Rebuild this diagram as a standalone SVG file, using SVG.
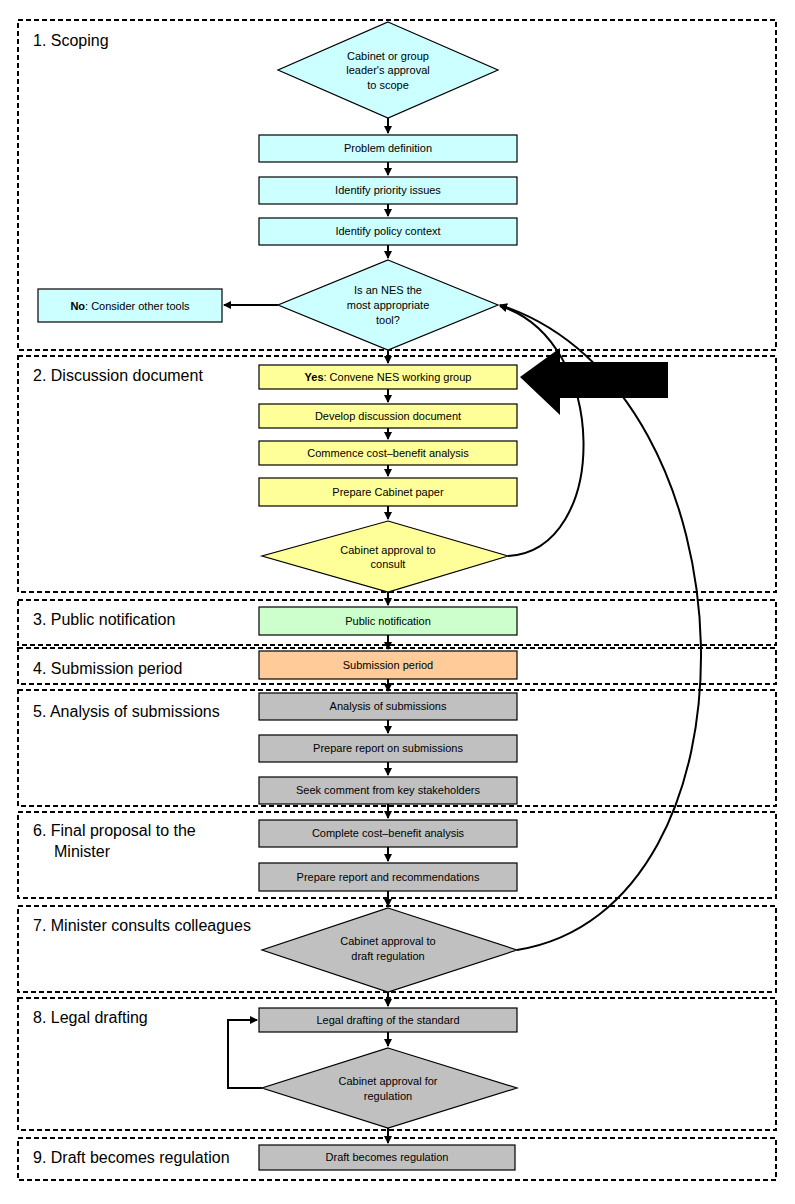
<svg xmlns="http://www.w3.org/2000/svg" width="795" height="1204" viewBox="0 0 795 1204">
<style>
.sec{fill:none;stroke:#000;stroke-width:2;stroke-dasharray:5,3}
.lbl{font-family:"Liberation Sans",Arial,sans-serif;font-size:16px;fill:#000}
.t{font-family:"Liberation Sans",Arial,sans-serif;font-size:11px;fill:#000;text-anchor:middle}
.n{stroke:#000;stroke-width:1.2}
.c{fill:#ccffff}.y{fill:#ffff99}.g{fill:#ccffcc}.o{fill:#ffcc99}.s{fill:#c0c0c0}
.e{fill:none;stroke:#000;stroke-width:2}
</style>
<defs><marker id="a" markerWidth="8" markerHeight="8" refX="7" refY="4" orient="auto" markerUnits="userSpaceOnUse"><path d="M0,0L8,4L0,8z" fill="#000"/></marker></defs>
<g id="sections">
<rect class="sec" x="18" y="20" width="758" height="330"/>
<rect class="sec" x="18" y="356" width="758" height="236"/>
<rect class="sec" x="18" y="600" width="758" height="45"/>
<rect class="sec" x="18" y="648" width="758" height="36"/>
<rect class="sec" x="18" y="690" width="758" height="116"/>
<rect class="sec" x="18" y="812" width="758" height="86"/>
<rect class="sec" x="18" y="906" width="758" height="86"/>
<rect class="sec" x="18" y="998" width="758" height="132"/>
<rect class="sec" x="18" y="1138" width="758" height="42"/>
<text class="lbl" x="33" y="46">1.  Scoping</text>
<text class="lbl" x="33" y="381">2.  Discussion document</text>
<text class="lbl" x="33" y="625">3.  Public notification</text>
<text class="lbl" x="33" y="674">4.  Submission period</text>
<text class="lbl" x="33" y="717">5.  Analysis of submissions</text>
<text class="lbl" x="33" y="836">6.  Final proposal to the</text>
<text class="lbl" x="54" y="857">Minister</text>
<text class="lbl" x="33" y="931">7.  Minister consults colleagues</text>
<text class="lbl" x="33" y="1023">8.  Legal drafting</text>
<text class="lbl" x="33" y="1163">9.  Draft becomes regulation</text>
</g>
<g id="connectors">
<path class="e" d="M388,118V133" marker-end="url(#a)"/>
<path class="e" d="M388,162V175" marker-end="url(#a)"/>
<path class="e" d="M388,204V216" marker-end="url(#a)"/>
<path class="e" d="M388,245V258" marker-end="url(#a)"/>
<path class="e" d="M278,305H224" marker-end="url(#a)"/>
<path class="e" d="M388,350V363" marker-end="url(#a)"/>
<path class="e" d="M388,389V402" marker-end="url(#a)"/>
<path class="e" d="M388,428V439" marker-end="url(#a)"/>
<path class="e" d="M388,465V476" marker-end="url(#a)"/>
<path class="e" d="M388,506V519" marker-end="url(#a)"/>
<path class="e" d="M388,592V605" marker-end="url(#a)"/>
<path class="e" d="M388,635V649" marker-end="url(#a)"/>
<path class="e" d="M388,679V691" marker-end="url(#a)"/>
<path class="e" d="M388,720V733" marker-end="url(#a)"/>
<path class="e" d="M388,762V775" marker-end="url(#a)"/>
<path class="e" d="M388,804V818" marker-end="url(#a)"/>
<path class="e" d="M388,847V861" marker-end="url(#a)"/>
<path class="e" d="M388,891V906" marker-end="url(#a)"/>
<path class="e" d="M388,992V1006" marker-end="url(#a)"/>
<path class="e" d="M388,1032V1046" marker-end="url(#a)"/>
<path class="e" d="M388,1128V1143" marker-end="url(#a)"/>
<path class="e" d="M262,1088H228V1020H257" marker-end="url(#a)"/>
<path class="e" d="M508,556C610,550 610,340 500,306" marker-end="url(#a)"/>
<path class="e" d="M517,950C770,910 760,390 500,305" marker-end="url(#a)"/>
<polygon points="520,377 560,348 560,362 668,362 668,398 560,398 560,415" fill="#000"/>
</g>
<g id="n1"><polygon class="n c" points="388,22 498,70 388,118 278,70"/><text class="t" x="388" y="60">Cabinet or group</text><text class="t" x="388" y="74">leader's approval</text><text class="t" x="388" y="89">to scope</text></g>
<g id="n2"><rect class="n c" x="259" y="135" width="258" height="27"/><text class="t" x="388" y="152">Problem definition</text></g>
<g id="n3"><rect class="n c" x="259" y="177" width="258" height="27"/><text class="t" x="388" y="194">Identify priority issues</text></g>
<g id="n4"><rect class="n c" x="259" y="218" width="258" height="27"/><text class="t" x="388" y="235">Identify policy context</text></g>
<g id="n5"><polygon class="n c" points="388,260 498,305 388,350 278,305"/><text class="t" x="388" y="294">Is an NES the</text><text class="t" x="388" y="309">most appropriate</text><text class="t" x="388" y="324">tool?</text></g>
<g id="n6"><rect class="n c" x="38" y="289" width="184" height="33"/><text class="t" x="130" y="310"><tspan font-weight="bold">No</tspan>: Consider other tools</text></g>
<g id="n7"><rect class="n y" x="259" y="365" width="258" height="24"/><text class="t" x="388" y="381"><tspan font-weight="bold">Yes</tspan>: Convene NES working group</text></g>
<g id="n8"><rect class="n y" x="259" y="404" width="258" height="24"/><text class="t" x="388" y="420">Develop discussion document</text></g>
<g id="n9"><rect class="n y" x="259" y="441" width="258" height="24"/><text class="t" x="388" y="457">Commence cost–benefit analysis</text></g>
<g id="n10"><rect class="n y" x="259" y="478" width="258" height="28"/><text class="t" x="388" y="496">Prepare Cabinet paper</text></g>
<g id="n11"><polygon class="n y" points="388,521 508,556 388,592 262,556"/><text class="t" x="388" y="554">Cabinet approval to</text><text class="t" x="388" y="568">consult</text></g>
<g id="n12"><rect class="n g" x="259" y="607" width="258" height="28"/><text class="t" x="388" y="625">Public notification</text></g>
<g id="n13"><rect class="n o" x="259" y="651" width="258" height="28"/><text class="t" x="388" y="669">Submission period</text></g>
<g id="n14"><rect class="n s" x="259" y="693" width="258" height="27"/><text class="t" x="388" y="710">Analysis of submissions</text></g>
<g id="n15"><rect class="n s" x="259" y="735" width="258" height="27"/><text class="t" x="388" y="752">Prepare report on submissions</text></g>
<g id="n16"><rect class="n s" x="259" y="777" width="258" height="27"/><text class="t" x="388" y="794">Seek comment from key stakeholders</text></g>
<g id="n17"><rect class="n s" x="259" y="820" width="258" height="27"/><text class="t" x="388" y="837">Complete cost–benefit analysis</text></g>
<g id="n18"><rect class="n s" x="259" y="863" width="258" height="28"/><text class="t" x="388" y="881">Prepare report and recommendations</text></g>
<g id="n19"><polygon class="n s" points="388,908 517,950 388,992 262,950"/><text class="t" x="388" y="945">Cabinet approval to</text><text class="t" x="388" y="960">draft regulation</text></g>
<g id="n20"><rect class="n s" x="259" y="1008" width="258" height="24"/><text class="t" x="388" y="1024">Legal drafting of the standard</text></g>
<g id="n21"><polygon class="n s" points="388,1048 517,1088 388,1128 262,1088"/><text class="t" x="388" y="1085">Cabinet approval for</text><text class="t" x="388" y="1100">regulation</text></g>
<g id="n22"><rect class="n s" x="259" y="1145" width="256" height="25"/><text class="t" x="387" y="1161">Draft becomes regulation</text></g>
</svg>
